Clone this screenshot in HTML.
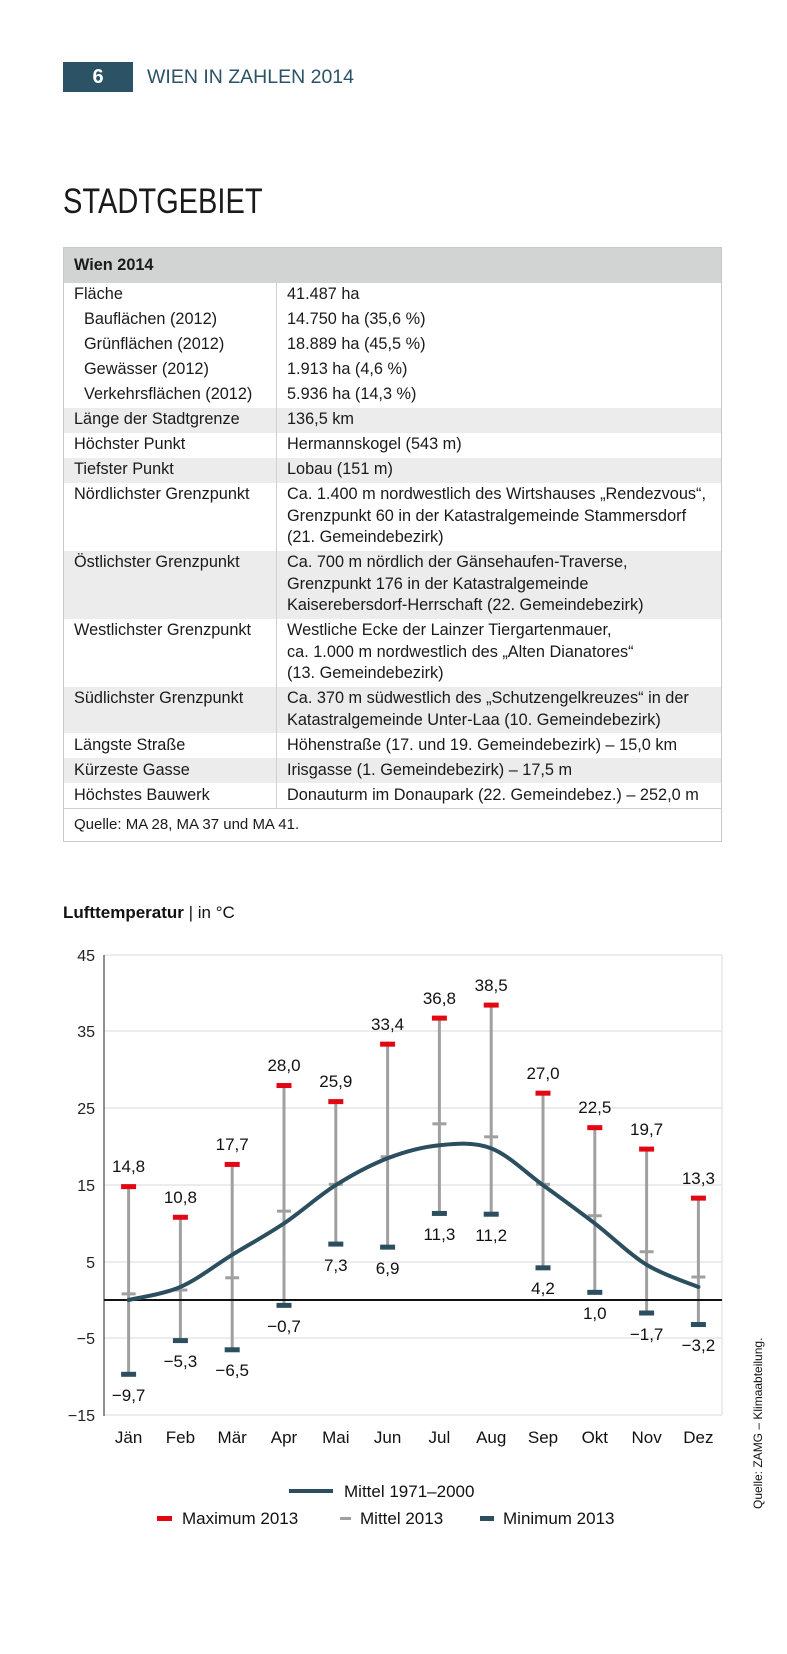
<!DOCTYPE html>
<html><head><meta charset="utf-8"><style>
*{margin:0;padding:0;box-sizing:border-box}
body{width:787px;height:1654px;background:#fff;position:relative;font-family:"Liberation Sans",sans-serif;color:#1a1a1a;overflow:hidden}
.box{position:absolute;left:63px;top:62px;width:70px;height:30px;background:#2b5265;color:#fff;font-weight:bold;font-size:20px;text-align:center;line-height:30px}
.hd{position:absolute;left:147px;top:62px;line-height:30px;font-size:19.5px;color:#2b5265}
.title{position:absolute;left:63px;top:184px;font-size:35px;line-height:36px;transform:scaleX(0.83);transform-origin:left}
table{position:absolute;left:63px;top:247px;width:659px;border-collapse:collapse;font-size:16.3px;border:1px solid #c8c8c8}
td{padding:1.75px 0 1.75px 10px;line-height:21.5px;white-space:nowrap;vertical-align:top}
td.l{width:213px;border-right:1px solid #d0d0d0}
td.in{padding-left:20px}
tr.g td{background:#ececec}
tr.h td{background:#d2d3d3;font-weight:bold;height:35px;vertical-align:middle}
tr.q td{height:32.5px;vertical-align:middle;border-top:1px solid #d0d0d0;font-size:15px}
svg{position:absolute;left:0;top:0}
</style></head><body>
<div class="box">6</div>
<div class="hd">WIEN IN ZAHLEN 2014</div>
<div class="title">STADTGEBIET</div>
<table>
<tr class="h"><td colspan="2">Wien 2014</td></tr>
<tr><td class="l">Fläche</td><td>41.487 ha</td></tr>
<tr><td class="l in">Bauflächen (2012)</td><td>14.750 ha (35,6 %)</td></tr>
<tr><td class="l in">Grünflächen (2012)</td><td>18.889 ha (45,5 %)</td></tr>
<tr><td class="l in">Gewässer (2012)</td><td>1.913 ha (4,6 %)</td></tr>
<tr><td class="l in">Verkehrsflächen (2012)</td><td>5.936 ha (14,3 %)</td></tr>
<tr class="g"><td class="l">Länge der Stadtgrenze</td><td>136,5 km</td></tr>
<tr><td class="l">Höchster Punkt</td><td>Hermannskogel (543 m)</td></tr>
<tr class="g"><td class="l">Tiefster Punkt</td><td>Lobau (151 m)</td></tr>
<tr><td class="l">Nördlichster Grenzpunkt</td><td>Ca. 1.400 m nordwestlich des Wirtshauses „Rendezvous“,<br>Grenzpunkt 60 in der Katastralgemeinde Stammersdorf<br>(21. Gemeindebezirk)</td></tr>
<tr class="g"><td class="l">Östlichster Grenzpunkt</td><td>Ca. 700 m nördlich der Gänsehaufen-Traverse,<br>Grenzpunkt 176 in der Katastralgemeinde<br>Kaiserebersdorf-Herrschaft (22. Gemeindebezirk)</td></tr>
<tr><td class="l">Westlichster Grenzpunkt</td><td>Westliche Ecke der Lainzer Tiergartenmauer,<br>ca. 1.000 m nordwestlich des „Alten Dianatores“<br>(13. Gemeindebezirk)</td></tr>
<tr class="g"><td class="l">Südlichster Grenzpunkt</td><td>Ca. 370 m südwestlich des „Schutzengelkreuzes“ in der<br>Katastralgemeinde Unter-Laa (10. Gemeindebezirk)</td></tr>
<tr><td class="l">Längste Straße</td><td>Höhenstraße (17. und 19. Gemeindebezirk) – 15,0 km</td></tr>
<tr class="g"><td class="l">Kürzeste Gasse</td><td>Irisgasse (1. Gemeindebezirk) – 17,5 m</td></tr>
<tr><td class="l">Höchstes Bauwerk</td><td>Donauturm im Donaupark (22. Gemeindebez.) – 252,0 m</td></tr>
<tr class="q"><td colspan="2">Quelle: MA 28, MA 37 und MA 41.</td></tr>
</table>

<svg width="787" height="1654" xmlns="http://www.w3.org/2000/svg" font-family="Liberation Sans, sans-serif">
<text x="63" y="918" font-size="17" font-weight="bold" fill="#111">Lufttemperatur<tspan font-weight="normal"> | in °C</tspan></text>
<g stroke="#e6e6e6" stroke-width="1.5">
<line x1="104" y1="955" x2="722" y2="955"/><line x1="104" y1="1031" x2="722" y2="1031"/><line x1="104" y1="1108" x2="722" y2="1108"/><line x1="104" y1="1185" x2="722" y2="1185"/><line x1="104" y1="1262" x2="722" y2="1262"/><line x1="104" y1="1338" x2="722" y2="1338"/><line x1="104" y1="1415" x2="722" y2="1415"/><line x1="722" y1="955" x2="722" y2="1415"/>
</g>
<line x1="104" y1="955" x2="104" y2="1416" stroke="#222" stroke-width="1"/>
<g font-size="16" fill="#222" text-anchor="end">
<text x="95" y="961">45</text><text x="95" y="1037">35</text><text x="95" y="1114">25</text><text x="95" y="1191">15</text><text x="95" y="1268">5</text><text x="95" y="1344">−5</text><text x="95" y="1421">−15</text>
</g>
<g id="bars"></g>
<line x1="104" y1="1300" x2="722" y2="1300" stroke="#111" stroke-width="2"/>
<path id="curve" fill="none" stroke="#2c4f5f" stroke-width="4" stroke-linecap="round"/>
<g font-size="17" fill="#111" text-anchor="middle">
<text x="128.6" y="1172">14,8</text><text x="180.4" y="1203">10,8</text><text x="232.2" y="1150">17,7</text><text x="284" y="1071">28,0</text><text x="335.8" y="1087">25,9</text><text x="387.6" y="1030">33,4</text><text x="439.4" y="1004">36,8</text><text x="491.2" y="991">38,5</text><text x="543" y="1079">27,0</text><text x="594.8" y="1113">22,5</text><text x="646.6" y="1135">19,7</text><text x="698.4" y="1184">13,3</text>
<text x="128.6" y="1401">−9,7</text><text x="180.4" y="1367">−5,3</text><text x="232.2" y="1376">−6,5</text><text x="284" y="1332">−0,7</text><text x="335.8" y="1271">7,3</text><text x="387.6" y="1274">6,9</text><text x="439.4" y="1240">11,3</text><text x="491.2" y="1241">11,2</text><text x="543" y="1294">4,2</text><text x="594.8" y="1319">1,0</text><text x="646.6" y="1340">−1,7</text><text x="698.4" y="1351">−3,2</text>
<text x="128.6" y="1443">Jän</text><text x="180.4" y="1443">Feb</text><text x="232.2" y="1443">Mär</text><text x="284" y="1443">Apr</text><text x="335.8" y="1443">Mai</text><text x="387.6" y="1443">Jun</text><text x="439.4" y="1443">Jul</text><text x="491.2" y="1443">Aug</text><text x="543" y="1443">Sep</text><text x="594.8" y="1443">Okt</text><text x="646.6" y="1443">Nov</text><text x="698.4" y="1443">Dez</text>
</g>
<line x1="289" y1="1491" x2="333" y2="1491" stroke="#2c4f5f" stroke-width="4"/>
<text x="344" y="1497" font-size="17" fill="#111">Mittel 1971–2000</text>
<rect x="157" y="1516" width="15" height="5" fill="#e30613"/>
<text x="182" y="1524" font-size="17" fill="#111">Maximum 2013</text>
<rect x="340" y="1517" width="11" height="3" fill="#a0a0a0"/>
<text x="360" y="1524" font-size="17" fill="#111">Mittel 2013</text>
<rect x="480" y="1516" width="14" height="5" fill="#2c4f5f"/>
<text x="503" y="1524" font-size="17" fill="#111">Minimum 2013</text>
<text transform="translate(762,1509) rotate(-90)" font-size="12" fill="#111">Quelle: ZAMG – Klimaabteilung.</text>
</svg>
<script>
var xs=[],i;for(i=0;i<12;i++)xs.push(128.6+51.8*i);
function y(v){return 1300-v*7.66;}
var mx=[14.8,10.8,17.7,28,25.9,33.4,36.8,38.5,27,22.5,19.7,13.3];
var mn=[-9.7,-5.3,-6.5,-0.7,7.3,6.9,11.3,11.2,4.2,1.0,-1.7,-3.2];
var md=[0.8,1.3,2.9,11.6,15.1,18.7,23,21.3,15.1,11,6.3,3.0];
var cv=[0,1.7,5.9,10,15,18.5,20.2,19.8,15,10,4.6,1.7];
var s='';
for(i=0;i<12;i++){var x=xs[i];
s+='<line x1="'+x+'" y1="'+y(mx[i])+'" x2="'+x+'" y2="'+y(mn[i])+'" stroke="#a0a0a0" stroke-width="3"/>';
s+='<rect x="'+(x-7)+'" y="'+(y(md[i])-1.5)+'" width="14" height="3" fill="#a0a0a0"/>';
s+='<rect x="'+(x-7.5)+'" y="'+(y(mx[i])-2.5)+'" width="15" height="5" fill="#e30613"/>';
s+='<rect x="'+(x-7.5)+'" y="'+(y(mn[i])-2.5)+'" width="15" height="5" fill="#2c4f5f"/>';}
document.getElementById('bars').innerHTML=s;
var p=[];for(i=0;i<12;i++)p.push([xs[i],y(cv[i])]);
var d='M'+p[0][0]+','+p[0][1];
for(i=0;i<11;i++){var p0=p[i-1]||p[i],p1=p[i],p2=p[i+1],p3=p[i+2]||p[i+1];
d+=' C'+(p1[0]+(p2[0]-p0[0])/6)+','+(p1[1]+(p2[1]-p0[1])/6)+' '+(p2[0]-(p3[0]-p1[0])/6)+','+(p2[1]-(p3[1]-p1[1])/6)+' '+p2[0]+','+p2[1];}
document.getElementById('curve').setAttribute('d',d);
</script>
</body></html>
